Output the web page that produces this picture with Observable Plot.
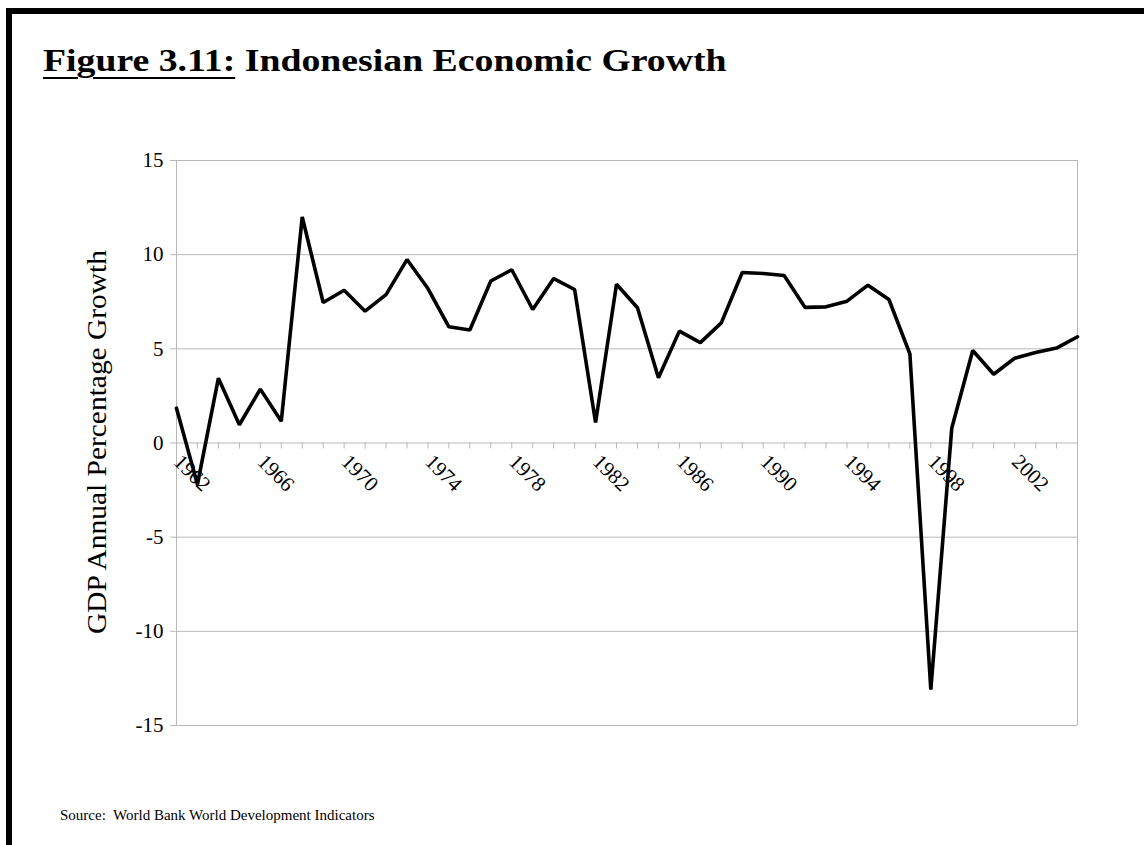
<!DOCTYPE html>
<html>
<head>
<meta charset="utf-8">
<script src="https://cdn.jsdelivr.net/npm/d3@7"></script>
<script src="https://cdn.jsdelivr.net/npm/@observablehq/plot@0.6"></script>
<style>
  html, body { margin: 0; padding: 0; background: #fff; }
  #wrap { position: relative; width: 1144px; height: 845px; overflow: hidden; background: #fff; font-family: "Liberation Serif", "Times New Roman", serif; color: #000; }
  #chart { position: absolute; left: 0; top: 0; }
  .bar { position: absolute; background: #000; }
  #title { position: absolute; left: 43px; top: 44px; font-size: 32px; font-weight: bold; white-space: nowrap; line-height: 1; transform-origin: 0 0; transform: scaleX(1.18); }
  #title u { text-decoration-thickness: 2px; text-underline-offset: 6px; }
  #ylabel { position: absolute; left: 97px; top: 442px; font-size: 27px; white-space: nowrap; line-height: 1; transform: translate(-50%, -50%) rotate(-90deg) scaleX(1.09); }
  #source { position: absolute; left: 60px; top: 808px; font-size: 15px; white-space: nowrap; line-height: 1; }
</style>
</head>
<body>
<div id="wrap">
  <div id="chart"></div>
  <div class="bar" style="left:6px; top:8px; width:1138px; height:6px;"></div>
  <div class="bar" style="left:6px; top:8px; width:6px; height:837px;"></div>
  <div id="title"><u>Figure 3.11:</u> Indonesian Economic Growth</div>
  <div id="ylabel">GDP Annual Percentage Growth</div>
  <div id="source">Source:&nbsp; World Bank World Development Indicators</div>
</div>
<script>
// Data
const years = [
  1962, 1963, 1964, 1965, 1966, 1967, 1968, 1969, 1970, 1971,
  1972, 1973, 1974, 1975, 1976, 1977, 1978, 1979, 1980, 1981,
  1982, 1983, 1984, 1985, 1986, 1987, 1988, 1989, 1990, 1991,
  1992, 1993, 1994, 1995, 1996, 1997, 1998, 1999, 2000, 2001,
  2002, 2003, 2004, 2005
];
const growth = [
  1.85, -2.2, 3.44, 0.97, 2.86, 1.15, 12.0, 7.46, 8.11, 7.0,
  7.88, 9.74, 8.2, 6.17, 6.0, 8.6, 9.2, 7.09, 8.73, 8.15,
  1.09, 8.43, 7.18, 3.47, 5.94, 5.33, 6.38, 9.05, 9.0, 8.89,
  7.2, 7.23, 7.53, 8.38, 7.62, 4.73, -13.1, 0.8, 4.91, 3.65,
  4.5, 4.81, 5.04, 5.64
];
const yTicks = [-15, -10, -5, 0, 5, 10, 15];
const yearLabels = [1962, 1966, 1970, 1974, 1978, 1982, 1986, 1990, 1994, 1998, 2002];

const data = years.map((year, i) => ({year, value: growth[i]}));
const grid = "#b8b8b8";

const chart = Plot.plot({
  width: 1144,
  height: 845,
  marginLeft: 176,
  marginRight: 67,
  marginTop: 160,
  marginBottom: 120,
  style: { fontFamily: '"Liberation Serif", "Times New Roman", serif', fontSize: "21px", background: "transparent", color: "#000" },
  x: { domain: [1962, 2005], axis: null },
  y: { domain: [-15, 15], axis: null },
  marks: [
    Plot.ruleY(yTicks, { y: d => d, stroke: grid, strokeWidth: 1, insetLeft: -6 }),
    Plot.ruleX([1962, 2005], { x: d => d, stroke: grid, strokeWidth: 1 }),
    Plot.ruleX(years, { x: d => d, y1: 0, y2: 0, insetBottom: -6, stroke: grid, strokeWidth: 1 }),
    Plot.text(yTicks, { x: 1962, y: d => d, text: d => String(d), textAnchor: "end", dx: -13, fontSize: 21, fill: "#000", fontFamily: '"Liberation Serif", serif' }),
    Plot.text(yearLabels, { x: d => d, y: 0, text: d => String(d), rotate: 45, textAnchor: "start", lineAnchor: "bottom", dx: -4, dy: 20, fontSize: 21, fill: "#000", fontFamily: '"Liberation Serif", serif' }),
    Plot.line(data, { x: "year", y: "value", stroke: "#000", strokeWidth: 3.6, strokeLinejoin: "miter" })
  ]
});
document.getElementById("chart").appendChild(chart);
</script>
</body>
</html>
